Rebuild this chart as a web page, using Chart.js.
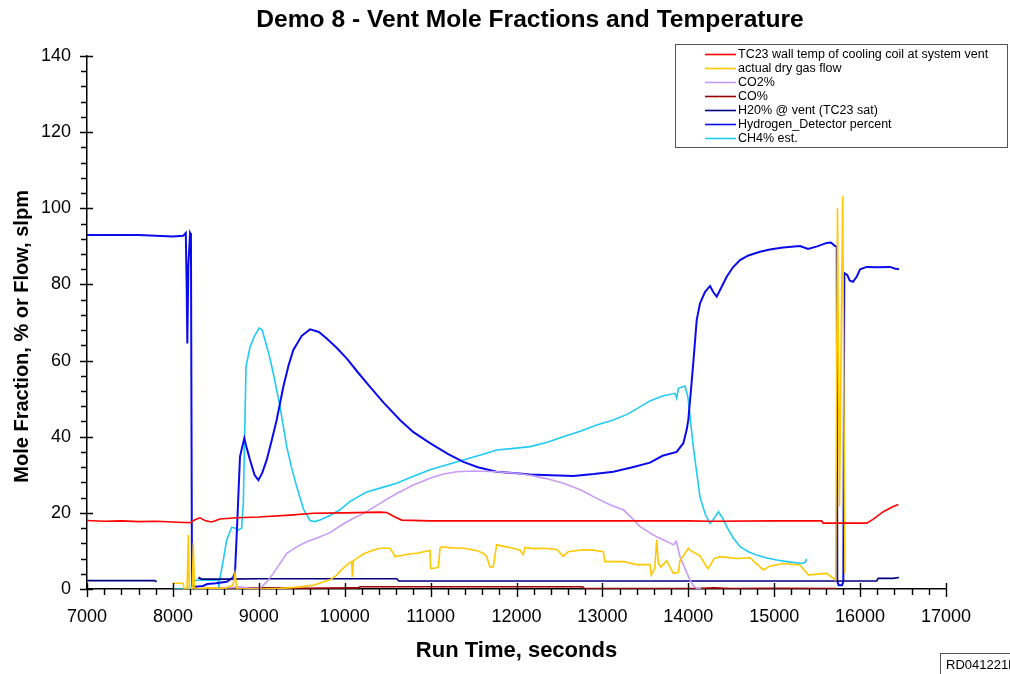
<!DOCTYPE html>
<html>
<head>
<meta charset="utf-8">
<script src="https://cdn.jsdelivr.net/npm/chart.js@4.4.1/dist/chart.umd.min.js"></script>
<style>
  body { margin: 0; background: #fff; }
  #chart { display: block; }
</style>
</head>
<body>
<canvas id="chart" width="1010" height="674"></canvas>
<script>
// series values as [run time (s), value] pairs
const tc23Wall = [[7000,18.0],[7200,17.8],[7400,17.9],[7600,17.7],[7800,17.8],[8000,17.6],[8199,17.4],[8257,18.2],[8315,18.7],[8380,17.9],[8452,17.6],[8548,18.4],[8742,18.7],[9000,18.9],[9363,19.4],[9635,19.9],[10000,20.0],[10411,20.2],[10489,20.1],[10580,19.0],[10663,18.1],[11000,17.9],[12000,17.9],[13000,17.9],[14000,17.9],[14253,17.8],[15000,17.9],[15553,17.9],[15570,17.3],[16077,17.3],[16150,18.3],[16270,20.3],[16380,21.6],[16445,22.2]];

const dryGasFlow = [[7997,1.5],[8121,1.5],[8130,0],[8165,0],[8180,14.2],[8190,0],[8225,0],[8238,12],[8250,0],[8400,0.3],[8600,0.2],[8700,1],[8723,4.1],[8745,0],[9000,0],[9247,0.1],[9450,0.5],[9635,1],[9829,2.4],[9900,3.5],[9984,5.5],[10060,7],[10081,7.2],[10090,3.2],[10100,7.4],[10170,8.5],[10236,9.4],[10330,10.2],[10411,10.7],[10527,10.7],[10560,9.6],[10585,8.5],[10663,8.8],[10750,9.2],[10838,9.4],[10993,10.1],[11000,5.4],[11060,5.5],[11090,5.8],[11110,10.8],[11129,11.1],[11250,10.8],[11381,10.7],[11536,10.1],[11620,9.3],[11653,8.5],[11691,5.8],[11730,5.8],[11769,11.6],[11850,11.2],[11963,10.7],[12040,10.2],[12079,9],[12100,10.9],[12200,10.6],[12312,10.7],[12468,10.4],[12545,8.6],[12600,9.8],[12778,10.3],[12900,10.2],[13010,9.8],[13030,7.2],[13244,7.2],[13399,6.4],[13554,6.4],[13570,3.6],[13610,5.5],[13632,12.9],[13651,6.8],[13680,5.8],[13748,7.4],[13826,4.1],[13884,4.4],[13903,7.4],[14000,10.7],[14019,10.2],[14136,8.7],[14214,5.8],[14233,5.4],[14300,8],[14369,8.5],[14563,8.0],[14718,8.2],[14873,5.0],[14950,6],[15106,6.7],[15300,6.3],[15397,3.7],[15611,4.1],[15715,2.4],[15737,100],[15760,21.6],[15797,103.2],[15824,4.1]];

const co2 = [[8400,0],[8600,0.3],[8800,0.5],[8900,0.2],[9014,0.2],[9090,1.8],[9169,4.1],[9250,6.8],[9325,9.4],[9450,11.2],[9558,12.4],[9700,13.6],[9829,14.8],[9950,16.6],[10100,18.6],[10217,19.8],[10411,22.5],[10605,25.1],[10800,27.3],[10993,29.1],[11150,30.2],[11303,30.8],[11500,31],[11769,30.8],[12000,30.4],[12157,29.9],[12350,29],[12545,27.8],[12750,26],[12934,23.8],[13100,22],[13244,20.8],[13350,18.5],[13438,16.4],[13550,14.8],[13632,13.7],[13750,12.5],[13826,11.6],[13860,12.5],[13903,8.5],[13960,5.5],[14019,2.4],[14060,0.8],[14098,0.2],[14150,0]];

const co = [[8354,0],[8500,0.2],[8700,0.3],[9000,0.3],[9500,0.2],[10150,0.3],[10180,0.6],[11000,0.6],[12000,0.6],[12770,0.6],[12790,0.1],[13500,0.1],[14100,0.1],[14300,0.3],[14500,0.1],[15000,0.2],[15728,0.1]];

const h2oVent = [[7000,2.2],[7790,2.2],[7811,1.9],[7815,null],[8296,2.6],[8310,3],[8330,2.6],[8600,2.6],[9000,2.7],[10000,2.7],[10605,2.7],[10630,2.1],[16193,2.1],[16210,2.8],[16383,2.8],[16453,3.0]];

const hydrogen = [[7000,93],[7400,93],[7600,93],[7800,92.8],[8000,92.6],[8120,92.8],[8150,93.5],[8160,80],[8168,64.5],[8180,85],[8200,93.5],[8210,93],[8222,1],[8260,0.6],[8350,0.8],[8400,1.3],[8500,1.5],[8626,1.9],[8700,3],[8723,4.2],[8750,18],[8781,34.8],[8831,39.6],[8860,37],[8898,33.9],[8950,30],[8995,28.6],[9040,30.5],[9092,33.9],[9150,39],[9208,44.4],[9286,53.2],[9350,59],[9402,62.8],[9500,66.5],[9596,68.2],[9700,67.5],[9790,65.8],[9900,63.5],[10023,60.6],[10150,57],[10295,53.1],[10450,49],[10644,44.4],[10800,41.2],[10993,38.3],[11200,35.5],[11381,33.4],[11550,32],[11769,30.8],[12000,30.4],[12157,30.1],[12400,29.9],[12661,29.7],[12900,30.2],[13127,30.8],[13350,32],[13554,33.2],[13700,35],[13865,36],[13942,38.3],[13981,41.8],[14000,44.4],[14030,52],[14058,59.4],[14098,70.7],[14136,75],[14194,78],[14253,79.6],[14290,78],[14331,76.8],[14380,79],[14447,82],[14520,84.5],[14602,86.4],[14700,87.6],[14835,88.6],[14950,89.2],[15103,89.7],[15301,90.1],[15394,89.3],[15500,90],[15611,90.9],[15660,91],[15708,90.1],[15728,90],[15735,2],[15750,1],[15790,1],[15805,2],[15816,83],[15850,82.5],[15880,81],[15917,80.7],[15960,82],[16000,84],[16077,84.6],[16200,84.5],[16350,84.6],[16400,84.2],[16453,84]];

const ch4Est = [[8005,0],[8210,0],[8225,2.3],[8526,2.3],[8535,0.3],[8545,2.5],[8590,8],[8626,12.9],[8684,16.2],[8720,16],[8761,15.5],[8800,16],[8820,22.6],[8851,58.4],[8898,63.6],[8950,66.5],[9006,68.6],[9040,68],[9072,65.4],[9120,61.5],[9169,56.6],[9247,47.9],[9325,37.4],[9380,32],[9441,26.9],[9520,21],[9596,18],[9650,17.7],[9712,18.1],[9829,19.3],[9945,20.8],[10062,23],[10140,24],[10250,25.4],[10411,26.5],[10605,27.8],[10800,29.6],[10993,31.3],[11200,32.7],[11381,33.9],[11600,35.3],[11769,36.5],[12000,37],[12157,37.4],[12350,38.5],[12545,40],[12750,41.5],[12934,43.1],[13127,44.4],[13300,46],[13554,49.4],[13700,50.7],[13845,51.4],[13865,50.1],[13885,52.7],[13961,53.3],[13990,51],[14000,49.6],[14058,37.4],[14136,24.2],[14200,19.5],[14253,17.2],[14300,18.5],[14350,20.3],[14400,18.6],[14447,16.4],[14520,13.5],[14602,11.1],[14700,9.8],[14796,8.9],[14900,8.2],[15029,7.6],[15150,7.2],[15320,6.7],[15360,7],[15378,7.9]];

const seriesNames = ['TC23 wall temp of cooling coil at system vent', 'actual dry gas flow', 'CO2%', 'CO%', 'H20% @ vent (TC23 sat)', 'Hydrogen_Detector percent', 'CH4% est.'];
const seriesColors = ['#ff0000', '#ffc800', '#c89bf5', '#990000', '#000080', '#0a0aee', '#1ecbf5'];

const xTickValues = [7000, 8000, 9000, 10000, 11000, 12000, 13000, 14000, 15000, 16000, 17000];
const yTickValues = [0, 20, 40, 60, 80, 100, 120, 140];

const toPoints = arr => arr.map(p => ({ x: p[0], y: p[1] }));
const allSeries = [tc23Wall, dryGasFlow, co2, co, h2oVent, hydrogen, ch4Est];

// title, legend box, tick marks and the stamp are drawn by hand
const decor = {
  id: 'decor',
  afterDraw(chart) {
    const ctx = chart.ctx;
    const xs = chart.scales.x, ys = chart.scales.y;
    const area = chart.chartArea;
    ctx.save();

    // tick marks (major ones cross the axis)
    ctx.strokeStyle = '#000';
    ctx.lineWidth = 1.4;
    ctx.beginPath();
    for (let v = xs.min; v <= xs.max; v += 200) {
      const px = Math.round(xs.getPixelForValue(v)) + 0.5;
      const major = v % 1000 === 0;
      ctx.moveTo(px, area.bottom - (major ? 6 : 0));
      ctx.lineTo(px, area.bottom + (major ? 8 : 6));
    }
    for (let v = ys.min; v <= ys.max; v += 4) {
      const py = Math.round(ys.getPixelForValue(v)) + 0.5;
      const major = v % 20 === 0;
      ctx.moveTo(area.left - (major ? 7 : 6), py);
      ctx.lineTo(area.left + (major ? 6 : 0), py);
    }
    ctx.stroke();

    // title
    ctx.fillStyle = '#000';
    ctx.font = 'bold 24.6px "Liberation Sans", Arial, sans-serif';
    ctx.textAlign = 'center';
    ctx.textBaseline = 'middle';
    ctx.fillText('Demo 8 - Vent Mole Fractions and Temperature', 530, 20);

    // legend
    ctx.fillStyle = '#fff';
    ctx.fillRect(675, 44, 333, 104);
    ctx.strokeStyle = '#555';
    ctx.lineWidth = 1;
    ctx.strokeRect(675.5, 44.5, 332, 103);
    ctx.font = '12.5px "Liberation Sans", Arial, sans-serif';
    ctx.textAlign = 'left';
    chart.data.datasets.forEach((ds, i) => {
      const y = 54 + i * 14.05;
      ctx.strokeStyle = ds.borderColor;
      ctx.lineWidth = 1.6;
      ctx.beginPath();
      ctx.moveTo(705, Math.round(y) + 0.5);
      ctx.lineTo(736, Math.round(y) + 0.5);
      ctx.stroke();
      ctx.fillStyle = '#000';
      ctx.fillText(ds.label, 738, y + 0.5);
    });

    // stamp at bottom right
    ctx.strokeStyle = '#555';
    ctx.lineWidth = 1;
    ctx.strokeRect(940.5, 653.5, 90, 40);
    ctx.font = '13px "Liberation Sans", Arial, sans-serif';
    ctx.fillText('RD041221b', 946, 665);
    ctx.restore();
  }
};

new Chart(document.getElementById('chart'), {
  type: 'line',
  data: {
    datasets: allSeries.map((s, i) => ({
      label: seriesNames[i],
      data: toPoints(s),
      borderColor: seriesColors[i],
      backgroundColor: seriesColors[i],
      borderWidth: i === 5 ? 2 : 1.6,
      pointRadius: 0,
      tension: 0,
      spanGaps: false
    }))
  },
  options: {
    responsive: false,
    animation: false,
    devicePixelRatio: 1,
    layout: { padding: { left: 0, top: 56, right: 64, bottom: 0 } },
    plugins: {
      legend: { display: false },
      title: { display: false },
      tooltip: { enabled: false }
    },
    scales: {
      x: {
        type: 'linear',
        min: 7000,
        max: 17000,
        afterFit: scale => { scale.height = 85; },
        afterBuildTicks: scale => { scale.ticks = xTickValues.map(v => ({ value: v })); },
        grid: { display: false, drawTicks: false },
        border: { display: true, color: '#000', width: 1.5 },
        ticks: {
          color: '#000',
          padding: 17,
          maxRotation: 0,
          autoSkip: false,
          font: { family: '"Liberation Sans", Arial, sans-serif', size: 18 },
          callback: v => String(v)
        },
        title: {
          display: true,
          text: 'Run Time, seconds',
          color: '#000',
          padding: { top: 0, bottom: 10 },
          font: { family: '"Liberation Sans", Arial, sans-serif', size: 22, weight: 'bold' }
        }
      },
      y: {
        min: 0,
        max: 140,
        afterFit: scale => { scale.width = 87; },
        afterBuildTicks: scale => { scale.ticks = yTickValues.map(v => ({ value: v })); },
        grid: { display: false, drawTicks: false },
        border: { display: true, color: '#000', width: 1.5 },
        ticks: {
          color: '#000',
          padding: 16,
          font: { family: '"Liberation Sans", Arial, sans-serif', size: 18 },
          callback: v => String(v)
        },
        title: {
          display: true,
          // trailing spaces push the visible text a little lower, as in the original
          text: 'Mole Fraction, % or Flow, slpm     ',
          color: '#000',
          padding: { top: 10, bottom: 0 },
          font: { family: '"Liberation Sans", Arial, sans-serif', size: 20, weight: 'bold' }
        }
      }
    }
  },
  plugins: [decor]
});
</script>
</body>
</html>
